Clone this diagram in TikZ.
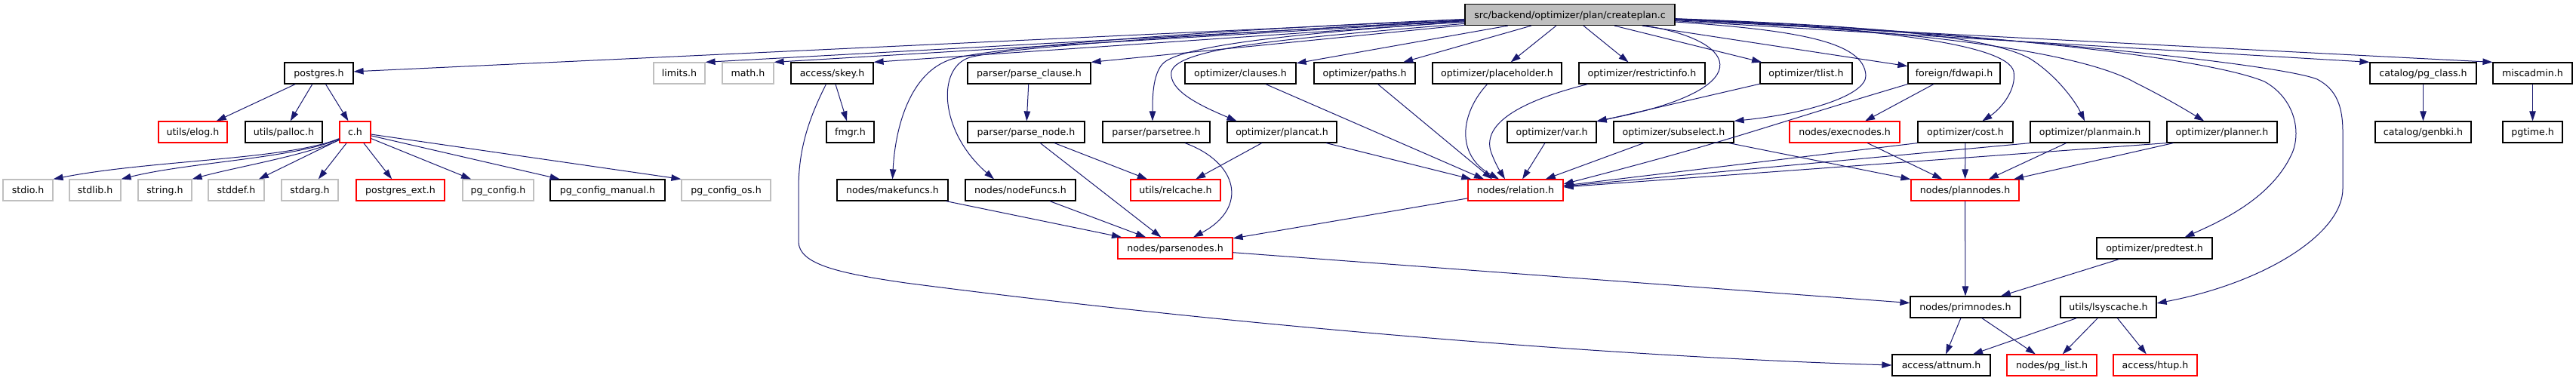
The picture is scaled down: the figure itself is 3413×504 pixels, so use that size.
\documentclass[tikz,border=0pt]{standalone}
\usepackage{fontspec}
\newfontfamily\dvs{DejaVu Sans}
\usetikzlibrary{arrows.meta}
\definecolor{edgeblue}{HTML}{191970}
\definecolor{boxgray}{HTML}{BFBFBF}
\begin{document}
\begin{tikzpicture}[x=1pt,y=-1pt,
  box/.style={draw=black, line width=1.2pt, minimum height=28pt, inner sep=0pt,
    text height=10pt, text depth=1pt, fill=white,
    font=\dvs\fontsize{12.6pt}{14pt}\selectfont},
  redbox/.style={box, draw=red},
  graybox/.style={box, draw=boxgray},
  edge/.style={draw=edgeblue, line width=1pt, -{Triangle[length=13pt,width=8.5pt]}}]
\useasboundingbox (0,0) rectangle (3413,504);
\fill[white] (0,0) rectangle (3413,504);
% row 0
\node[box, fill=boxgray, minimum width=278pt] (cp) at (2080,19.5) {src/backend/optimizer/plan/createplan.c};
% row 1
\node[box, minimum width=91pt] (postgres) at (422.5,97) {postgres.h};
\node[graybox, minimum width=68pt] (limits) at (900,97) {limits.h};
\node[graybox, minimum width=68pt] (math) at (991,97) {math.h};
\node[box, minimum width=109pt] (skey) at (1102.5,97) {access/skey.h};
\node[box, minimum width=163pt] (parseclause) at (1363.5,97) {parser/parse\_clause.h};
\node[box, minimum width=147pt] (clauses) at (1643.5,97) {optimizer/clauses.h};
\node[box, minimum width=134pt] (paths) at (1808,97) {optimizer/paths.h};
\node[box, minimum width=171pt] (placeholder) at (1983.5,97) {optimizer/placeholder.h};
\node[box, minimum width=167pt] (restrictinfo) at (2175.5,97) {optimizer/restrictinfo.h};
\node[box, minimum width=122pt] (tlist) at (2393,97) {optimizer/tlist.h};
\node[box, minimum width=122pt] (fdwapi) at (2589,97) {foreign/fdwapi.h};
\node[box, minimum width=141pt] (pgclass) at (3210.5,97) {catalog/pg\_class.h};
\node[box, minimum width=105pt] (miscadmin) at (3355.5,97) {miscadmin.h};
% row 2
\node[redbox, minimum width=91pt] (elog) at (255.5,175) {utils/elog.h};
\node[box, minimum width=102pt] (palloc) at (376,175) {utils/palloc.h};
\node[redbox, minimum width=41pt] (ch) at (470.5,175) {c.h};
\node[box, minimum width=63pt] (fmgr) at (1126.5,175) {fmgr.h};
\node[box, minimum width=155pt] (parsenode) at (1359.5,175) {parser/parse\_node.h};
\node[box, minimum width=142pt] (parsetree) at (1532,175) {parser/parsetree.h};
\node[box, minimum width=145pt] (plancat) at (1698.5,175) {optimizer/plancat.h};
\node[box, minimum width=118pt] (var) at (2056,175) {optimizer/var.h};
\node[box, minimum width=159pt] (subselect) at (2217.5,175) {optimizer/subselect.h};
\node[redbox, minimum width=146pt] (execnodes) at (2444,175) {nodes/execnodes.h};
\node[box, minimum width=126pt] (cost) at (2604,175) {optimizer/cost.h};
\node[box, minimum width=158pt] (planmain) at (2769,175) {optimizer/planmain.h};
\node[box, minimum width=146pt] (planner) at (2944,175) {optimizer/planner.h};
\node[box, minimum width=127pt] (genbki) at (3210.5,175) {catalog/genbki.h};
\node[box, minimum width=79pt] (pgtime) at (3355.5,175) {pgtime.h};
% row 3
\node[graybox, minimum width=66pt] (stdio) at (37,252) {stdio.h};
\node[graybox, minimum width=68pt] (stdlib) at (126,252) {stdlib.h};
\node[graybox, minimum width=71pt] (string) at (218.5,252) {string.h};
\node[graybox, minimum width=74pt] (stddef) at (313,252) {stddef.h};
\node[graybox, minimum width=75pt] (stdarg) at (410.5,252) {stdarg.h};
\node[redbox, minimum width=117pt] (pgext) at (530.5,252) {postgres\_ext.h};
\node[graybox, minimum width=94pt] (pgconfig) at (660,252) {pg\_config.h};
\node[box, minimum width=152pt] (pgmanual) at (805,252) {pg\_config\_manual.h};
\node[graybox, minimum width=118pt] (pgos) at (962,252) {pg\_config\_os.h};
\node[box, minimum width=147pt] (makefuncs) at (1182.5,252) {nodes/makefuncs.h};
\node[box, minimum width=146pt] (nodefuncs) at (1352,252) {nodes/nodeFuncs.h};
\node[redbox, minimum width=119pt] (relcache) at (1557.5,252) {utils/relcache.h};
\node[redbox, minimum width=126pt] (relation) at (2008,252) {nodes/relation.h};
\node[redbox, minimum width=143pt] (plannodes) at (2603.5,252) {nodes/plannodes.h};
% row 4
\node[redbox, minimum width=152pt] (parsenodes) at (1557,329) {nodes/parsenodes.h};
\node[box, minimum width=153pt] (predtest) at (2854.5,329) {optimizer/predtest.h};
% row 5
\node[box, minimum width=146pt] (primnodes) at (2604,407) {nodes/primnodes.h};
\node[box, minimum width=127pt] (lsyscache) at (2793.5,407) {utils/lsyscache.h};
% row 6
\node[box, minimum width=130pt] (attnum) at (2572,484) {access/attnum.h};
\node[redbox, minimum width=119pt] (pglist) at (2718.5,484) {nodes/pg\_list.h};
\node[redbox, minimum width=111pt] (htup) at (2855.5,484) {access/htup.h};

% createplan.c edges
\draw[edge] (cp) -- (postgres);
\draw[edge] (cp) -- (limits.north east);
\draw[edge] (cp) -- (math.north east);
\draw[edge] (cp) -- (skey.north east);
\draw[edge] (cp) -- (parseclause.north east);
\draw[edge] (cp) -- (clauses);
\draw[edge] (cp) -- (paths);
\draw[edge] (cp) -- (placeholder);
\draw[edge] (cp) -- (restrictinfo);
\draw[edge] (cp) -- (tlist);
\draw[edge] (cp) -- (fdwapi);
\draw[edge] (cp) -- (pgclass.north west);
\draw[edge] (cp) -- (miscadmin.north west);
\draw[edge] (cp) .. controls (1600,40) and (1320,62) .. (1262,78) .. controls (1205,95) and (1186,170) .. (makefuncs.north);
\draw[edge] (cp) .. controls (1600,45) and (1340,62) .. (1285,76) .. controls (1240,90) and (1245,175) .. ([xshift=-35pt]nodefuncs.north);
\draw[edge] (cp) .. controls (1700,45) and (1560,62) .. (1540,85) .. controls (1527,100) and (1527,130) .. ([xshift=-5pt]parsetree.north);
\draw[edge] (cp) .. controls (1720,50) and (1560,62) .. (1552,95) .. controls (1548,120) and (1590,140) .. ([xshift=-60pt]plancat.north);
\draw[edge] ([xshift=100pt]cp.south) .. controls (2310,55) and (2330,120) .. (var.north east);
\draw[edge] (cp) .. controls (2380,40) and (2470,55) .. (2472,100) .. controls (2473,125) and (2400,150) .. (subselect.north east);
\draw[edge] (cp) .. controls (2450,35) and (2660,55) .. (2668,95) .. controls (2672,120) and (2650,145) .. (cost);
\draw[edge] (cp) .. controls (2500,35) and (2640,50) .. (2690,78) .. controls (2725,100) and (2750,135) .. (planmain);
\draw[edge] (cp) .. controls (2550,40) and (2760,70) .. (2830,110) .. controls (2870,130) and (2895,145) .. (planner);
\draw[edge] (cp) .. controls (2600,40) and (2920,75) .. (3000,108) .. controls (3040,130) and (3050,175) .. (3036,205) .. controls (3010,260) and (2950,290) .. ([xshift=40pt]predtest.north);
\draw[edge] (cp) .. controls (2650,45) and (3020,85) .. (3070,105) .. controls (3095,118) and (3104,140) .. (3104,175) -- (3104,250) .. controls (3104,310) and (3000,375) .. ([yshift=5pt]lsyscache.east);

% postgres.h, c.h
\draw[edge] (postgres) -- (elog);
\draw[edge] (postgres) -- (palloc);
\draw[edge] (postgres) -- (ch);
\draw[edge] (ch) .. controls (380,212) and (200,212) .. (stdio.north east);
\draw[edge] (ch) .. controls (390,210) and (250,215) .. (stdlib.north east);
\draw[edge] (ch) .. controls (410,205) and (310,222) .. (string.north east);
\draw[edge] (ch) -- (stddef);
\draw[edge] (ch) -- (stdarg);
\draw[edge] (ch) -- (pgext);
\draw[edge] (ch) -- (pgconfig);
\draw[edge] (ch) -- (pgmanual);
\draw[edge] (ch) -- (pgos.north west);

% skey
\draw[edge] (skey) -- (fmgr);
\draw[edge] ([xshift=-8pt]skey.south) .. controls (1070,160) and (1058,200) .. (1058,250) -- (1058,320) .. controls (1058,350) and (1110,362) .. (1200,375) .. controls (1700,440) and (2200,475) .. (attnum.west);

% parser
\draw[edge] (parseclause) -- (parsenode);
\draw[edge] (parsenode) -- (relcache);
\draw[edge] (parsenode) -- (parsenodes);
\draw[edge] ([xshift=38pt]parsetree.south) .. controls (1640,215) and (1655,275) .. ([xshift=24pt]parsenodes.north);
\draw[edge] (makefuncs) -- (parsenodes);
\draw[edge] (nodefuncs) -- (parsenodes);
\draw[edge] (plancat) -- (relcache);

% into relation.h
\draw[edge] (plancat) -- (relation);
\draw[edge] (clauses) -- ([xshift=-42pt]relation.north);
\draw[edge] (paths) -- ([xshift=-31pt]relation.north);
\draw[edge] ([xshift=-13pt]placeholder.south) .. controls (1935,150) and (1928,205) .. ([xshift=-22pt]relation.north);
\draw[edge] ([xshift=-72pt]restrictinfo.south) .. controls (2010,135) and (1965,165) .. (1975,200) .. controls (1980,215) and (1988,228) .. ([xshift=-14pt]relation.north);
\draw[edge] (var) -- (relation);
\draw[edge] (subselect) -- (relation);
\draw[edge] (tlist) -- (var);
\draw[edge] (fdwapi.south west) .. controls (2330,170) and (2300,185) .. ([yshift=8pt]relation.east);
\draw[edge] (cost.south west) -- ([yshift=6pt]relation.east);
\draw[edge] (planmain.south west) -- ([yshift=5pt]relation.east);
\draw[edge] (planner.south west) -- ([yshift=4pt]relation.east);
\draw[edge] (relation) -- (parsenodes);

% plannodes
\draw[edge] (fdwapi) -- (execnodes);
\draw[edge] (subselect) -- (plannodes);
\draw[edge] (execnodes) -- (plannodes);
\draw[edge] (cost) -- (plannodes);
\draw[edge] (planmain) -- (plannodes);
\draw[edge] (planner) -- (plannodes);
\draw[edge] (plannodes) -- (primnodes);
\draw[edge] (parsenodes) -- (primnodes);
\draw[edge] (predtest) -- (primnodes);

% bottom
\draw[edge] (primnodes) -- (attnum);
\draw[edge] (primnodes) -- (pglist);
\draw[edge] (lsyscache) -- (attnum);
\draw[edge] (lsyscache) -- (pglist);
\draw[edge] (lsyscache) -- (htup);

% catalog, misc
\draw[edge] (pgclass) -- (genbki);
\draw[edge] (miscadmin) -- (pgtime);
\end{tikzpicture}
\end{document}
